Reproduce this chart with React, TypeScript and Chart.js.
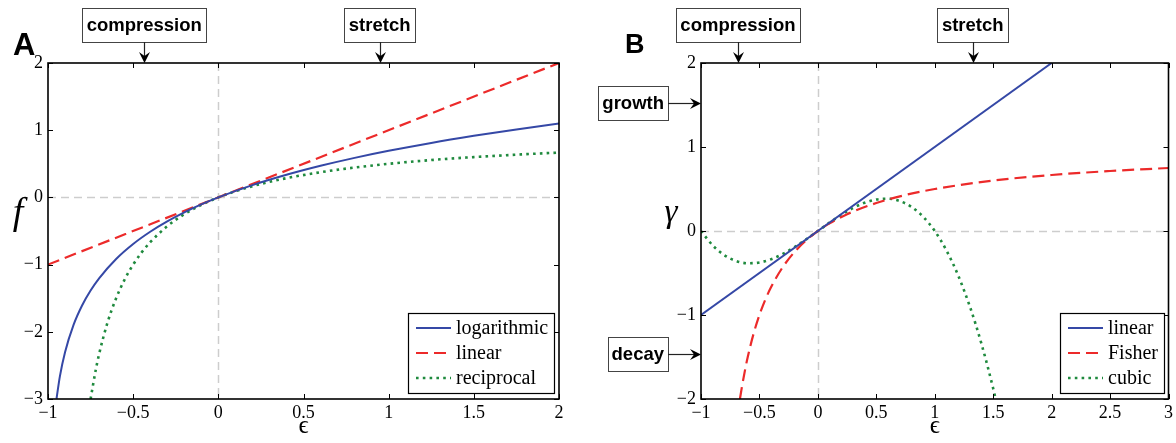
import React, { useEffect, useRef } from 'react';
import { Chart, registerables } from 'chart.js';
Chart.register(...registerables);

// ---------- Panel A data ----------
const xTicksA = [-1, -0.5, 0, 0.5, 1, 1.5, 2];
const yTicksA = [-3, -2, -1, 0, 1, 2];
const logEps = [-0.95, -0.93, -0.9, -0.85, -0.8, -0.75, -0.7, -0.6, -0.5, -0.4, -0.3, -0.2, -0.1, 0, 0.2, 0.4, 0.6, 0.8, 1.0, 1.25, 1.5, 1.75, 2.0];
const logF = [-2.996, -2.659, -2.303, -1.897, -1.609, -1.386, -1.204, -0.916, -0.693, -0.511, -0.357, -0.223, -0.105, 0, 0.182, 0.336, 0.47, 0.588, 0.693, 0.811, 0.916, 1.012, 1.099];
const linEpsA = [-1, 2];
const linFA = [-1, 2];
const recEps = [-0.75, -0.72, -0.7, -0.65, -0.6, -0.55, -0.5, -0.45, -0.4, -0.3, -0.2, -0.1, 0, 0.1, 0.2, 0.3, 0.4, 0.6, 0.8, 1.0, 1.25, 1.5, 1.75, 2.0];
const recF = [-3.0, -2.571, -2.333, -1.857, -1.5, -1.222, -1.0, -0.818, -0.667, -0.429, -0.25, -0.111, 0, 0.091, 0.167, 0.231, 0.286, 0.375, 0.444, 0.5, 0.556, 0.6, 0.636, 0.667];
const seriesNamesA = ['logarithmic', 'linear', 'reciprocal'];
const topNotesA = ['compression', 'stretch'];
const topNotesAX = [-0.435, 0.947];

// ---------- Panel B data ----------
const xTicksB = [-1, -0.5, 0, 0.5, 1, 1.5, 2, 2.5, 3];
const yTicksB = [-2, -1, 0, 1, 2];
const linEpsB = [-1, 2];
const linGB = [-1, 2];
const fisherEps = [-0.667, -0.65, -0.62, -0.6, -0.55, -0.5, -0.45, -0.4, -0.3, -0.2, -0.1, 0, 0.1, 0.25, 0.5, 0.75, 1.0, 1.5, 2.0, 2.5, 3.0];
const fisherG = [-2.0, -1.857, -1.632, -1.5, -1.222, -1.0, -0.818, -0.667, -0.429, -0.25, -0.111, 0, 0.091, 0.2, 0.333, 0.429, 0.5, 0.6, 0.667, 0.714, 0.75];
const cubicEps = [-1, -0.9, -0.8, -0.7, -0.6, -0.5, -0.4, -0.3, -0.2, -0.1, 0, 0.1, 0.2, 0.3, 0.4, 0.5, 0.6, 0.7, 0.8, 0.9, 1.0, 1.1, 1.2, 1.3, 1.35, 1.4, 1.45, 1.5, 1.52];
const cubicG = [0, -0.171, -0.288, -0.357, -0.384, -0.375, -0.336, -0.273, -0.192, -0.099, 0, 0.099, 0.192, 0.273, 0.336, 0.375, 0.384, 0.357, 0.288, 0.171, 0, -0.231, -0.528, -0.897, -1.11, -1.344, -1.599, -1.875, -1.992];
const seriesNamesB = ['linear', 'Fisher', 'cubic'];
const topNotesB = ['compression', 'stretch'];
const topNotesBX = [-0.684, 1.325];
const sideNotesB = ['growth', 'decay'];
const sideNotesBY = [1.52, -1.46];

// ---------- styles ----------
const BLUE = '#3548a6';
const RED = '#ec2a2a';
const GREEN = '#1f8a3e';
const SERIF = '"Liberation Serif", "DejaVu Serif", serif';
const SANS = '"Liberation Sans", Arial, sans-serif';
const H = 443;

const styleSolid = { color: BLUE, width: 2, dash: [] as number[] };
const styleDash = { color: RED, width: 2.2, dash: [12, 6] };
const styleDot = { color: GREEN, width: 2.6, dash: [2.6, 4.2] };

function fmt(v: number) {
  return v < 0 ? '\u2212' + String(Math.abs(v)) : String(v);
}

function line(ctx: CanvasRenderingContext2D, x1: number, y1: number, x2: number, y2: number) {
  ctx.beginPath();
  ctx.moveTo(x1, y1);
  ctx.lineTo(x2, y2);
  ctx.stroke();
}

function arrow(ctx: CanvasRenderingContext2D, x1: number, y1: number, x2: number, y2: number) {
  ctx.strokeStyle = '#222';
  ctx.lineWidth = 1.2;
  const ang = Math.atan2(y2 - y1, x2 - x1);
  const L = 11, W = 5.5, N = 4;
  const bx = x2 - Math.cos(ang) * (L - N), by = y2 - Math.sin(ang) * (L - N);
  line(ctx, x1, y1, bx, by);
  const c = Math.cos(ang), s = Math.sin(ang);
  const px = (dx: number, dy: number) => [x2 + dx * c - dy * s, y2 + dx * s + dy * c];
  const tip = px(0, 0), l = px(-L, -W), n = px(-L + N, 0), r = px(-L, W);
  ctx.fillStyle = '#000';
  ctx.beginPath();
  ctx.moveTo(tip[0], tip[1]);
  ctx.lineTo(l[0], l[1]);
  ctx.lineTo(n[0], n[1]);
  ctx.lineTo(r[0], r[1]);
  ctx.closePath();
  ctx.fill();
}

function noteBox(ctx: CanvasRenderingContext2D, x: number, y: number, w: number, h: number, text: string) {
  ctx.fillStyle = '#fff';
  ctx.fillRect(x, y, w, h);
  ctx.strokeStyle = '#444';
  ctx.lineWidth = 1;
  ctx.strokeRect(Math.round(x) + 0.5, Math.round(y) + 0.5, Math.round(w), Math.round(h));
  ctx.fillStyle = '#000';
  ctx.textAlign = 'center';
  ctx.textBaseline = 'middle';
  ctx.fillText(text, x + w / 2, y + h / 2 + 1);
}

const framePlugin = {
  id: 'frame',
  beforeDatasetsDraw(chart: any) {
    const { ctx, chartArea: a } = chart;
    const xs = chart.scales.x, ys = chart.scales.y;
    ctx.save();
    ctx.strokeStyle = '#cdcdcd';
    ctx.lineWidth = 1.5;
    ctx.setLineDash([8, 5]);
    const x0 = Math.round(xs.getPixelForValue(0)) + 0.5;
    const y0 = Math.round(ys.getPixelForValue(0)) + 0.5;
    line(ctx, x0, a.top, x0, a.bottom);
    line(ctx, a.left, y0, a.right, y0);
    ctx.restore();
  },
  afterDraw(chart: any, _args: any, opts: any) {
    const { ctx, chartArea: a } = chart;
    const xs = chart.scales.x, ys = chart.scales.y;
    ctx.save();
    ctx.setLineDash([]);
    // inward ticks
    ctx.strokeStyle = '#000';
    ctx.lineWidth = 1;
    for (const t of xs.ticks) {
      const px = Math.round(xs.getPixelForValue(t.value)) + 0.5;
      line(ctx, px, a.bottom, px, a.bottom - 5);
      line(ctx, px, a.top, px, a.top + 5);
    }
    for (const t of ys.ticks) {
      const py = Math.round(ys.getPixelForValue(t.value)) + 0.5;
      line(ctx, a.left, py, a.left + 5, py);
      line(ctx, a.right, py, a.right - 5, py);
    }
    // frame
    ctx.lineWidth = 1.6;
    ctx.strokeRect(a.left, a.top, a.right - a.left, a.bottom - a.top);

    // legend
    ctx.font = '20px ' + SERIF;
    const items = chart.data.datasets;
    const tw = Math.max(...items.map((d: any) => ctx.measureText(d.label).width));
    const w = 8 + 35 + 5 + tw + 6;
    const h = 80;
    const lx = Math.round(a.right - 5 - w);
    const ly = Math.round(a.bottom - 6 - h);
    ctx.fillStyle = '#fff';
    ctx.fillRect(lx, ly, w, h);
    ctx.strokeStyle = '#000';
    ctx.lineWidth = 1.2;
    ctx.strokeRect(lx + 0.5, ly + 0.5, Math.round(w), h);
    items.forEach((d: any, i: number) => {
      const cy = ly + 15 + i * 25;
      ctx.save();
      ctx.setLineDash(d.borderDash || []);
      ctx.strokeStyle = d.borderColor;
      ctx.lineWidth = d.borderWidth;
      line(ctx, lx + 8, cy, lx + 43, cy);
      ctx.restore();
      ctx.fillStyle = '#000';
      ctx.textAlign = 'left';
      ctx.textBaseline = 'middle';
      ctx.fillText(d.label, lx + 48, cy + 1);
    });

    // annotations
    ctx.font = 'bold 18.5px ' + SANS;
    for (const n of opts.notesTop) {
      const px = xs.getPixelForValue(n.x);
      const bw = ctx.measureText(n.text).width + 9;
      const top = 8, bh = 34;
      noteBox(ctx, px - bw / 2, top, bw, bh, n.text);
      arrow(ctx, Math.round(px) + 0.5, top + bh, Math.round(px) + 0.5, a.top);
    }
    for (const n of opts.notesSide) {
      const py = ys.getPixelForValue(n.y);
      const bw = ctx.measureText(n.text).width + 8;
      const bh = 34;
      const right = a.left - 33;
      noteBox(ctx, right - bw, py - bh / 2, bw, bh, n.text);
      arrow(ctx, right, Math.round(py) + 0.5, a.left, Math.round(py) + 0.5);
    }

    // axis labels
    ctx.fillStyle = '#000';
    ctx.textAlign = 'center';
    ctx.textBaseline = 'alphabetic';
    ctx.font = '25px ' + SERIF;
    ctx.fillText(opts.xLabel, (a.left + a.right) / 2, 433);
    ctx.font = opts.yLabelFont;
    ctx.fillText(opts.yLabel, opts.yLabelX, opts.yLabelY);
    // panel letter
    ctx.font = opts.letterFont;
    ctx.textAlign = 'left';
    ctx.fillText(opts.letter, opts.letterX, opts.letterY);
    ctx.restore();
  },
};

type Series = { label: string; xs: number[]; ys: number[]; style: { color: string; width: number; dash: number[] } };

function makeConfig(p: any) {
  const tickFont = { family: SERIF, size: 18 };
  return {
    type: 'line',
    data: {
      datasets: p.series.map((s: Series) => ({
        label: s.label,
        data: s.xs.map((x, i) => ({ x, y: s.ys[i] })),
        borderColor: s.style.color,
        borderWidth: s.style.width,
        borderDash: s.style.dash,
        borderCapStyle: 'butt',
        pointRadius: 0,
        pointHoverRadius: 0,
        fill: false,
        cubicInterpolationMode: 'monotone',
        clip: 0,
      })),
    },
    options: {
      responsive: false,
      animation: false,
      events: [],
      layout: { padding: { top: p.area.top, right: p.canvasW - p.area.right, left: 0, bottom: 0 } },
      plugins: {
        legend: { display: false },
        tooltip: { enabled: false },
        frame: p.frame,
      },
      scales: {
        x: {
          type: 'linear',
          min: p.xTicks[0],
          max: p.xTicks[p.xTicks.length - 1],
          afterBuildTicks: (s: any) => { s.ticks = p.xTicks.map((v: number) => ({ value: v })); },
          afterFit: (s: any) => { s.height = H - p.area.bottom; },
          grid: { display: false, drawTicks: false },
          border: { display: false },
          ticks: { font: tickFont, color: '#000', padding: 3, maxRotation: 0, autoSkip: false, callback: (v: number) => fmt(v) },
        },
        y: {
          type: 'linear',
          min: p.yTicks[0],
          max: p.yTicks[p.yTicks.length - 1],
          afterBuildTicks: (s: any) => { s.ticks = p.yTicks.map((v: number) => ({ value: v })); },
          afterFit: (s: any) => { s.width = p.area.left; },
          grid: { display: false, drawTicks: false },
          border: { display: false },
          ticks: { font: tickFont, color: '#000', padding: 5, autoSkip: false, callback: (v: number) => fmt(v) },
        },
      },
    },
    plugins: [framePlugin],
  };
}

const panelA = {
  canvasW: 590,
  left: 0,
  area: { left: 48, top: 63, right: 559, bottom: 399 },
  xTicks: xTicksA,
  yTicks: yTicksA,
  series: [
    { label: seriesNamesA[0], xs: logEps, ys: logF, style: styleSolid },
    { label: seriesNamesA[1], xs: linEpsA, ys: linFA, style: styleDash },
    { label: seriesNamesA[2], xs: recEps, ys: recF, style: styleDot },
  ],
  frame: {
    notesTop: topNotesA.map((t, i) => ({ text: t, x: topNotesAX[i] })),
    notesSide: [],
    xLabel: '\u03F5',
    yLabel: 'f',
    yLabelFont: 'italic 38px ' + SERIF,
    yLabelX: 18,
    yLabelY: 224,
    letter: 'A',
    letterFont: 'bold 31px ' + SANS,
    letterX: 13,
    letterY: 55,
  },
};

const panelB = {
  canvasW: 586,
  left: 590,
  area: { left: 111, top: 63, right: 579, bottom: 399 },
  xTicks: xTicksB,
  yTicks: yTicksB,
  series: [
    { label: seriesNamesB[0], xs: linEpsB, ys: linGB, style: styleSolid },
    { label: seriesNamesB[1], xs: fisherEps, ys: fisherG, style: styleDash },
    { label: seriesNamesB[2], xs: cubicEps, ys: cubicG, style: styleDot },
  ],
  frame: {
    notesTop: topNotesB.map((t, i) => ({ text: t, x: topNotesBX[i] })),
    notesSide: sideNotesB.map((t, i) => ({ text: t, y: sideNotesBY[i] })),
    xLabel: '\u03F5',
    yLabel: '\u03B3',
    yLabelFont: 'italic 33px ' + SERIF,
    yLabelX: 81,
    yLabelY: 222,
    letter: 'B',
    letterFont: 'bold 27px ' + SANS,
    letterX: 35,
    letterY: 53,
  },
};

function Panel({ p }: { p: any }) {
  const ref = useRef<HTMLCanvasElement | null>(null);
  useEffect(() => {
    if (!ref.current) return;
    const chart = new Chart(ref.current, makeConfig(p) as any);
    return () => chart.destroy();
  }, [p]);
  return (
    <canvas
      ref={ref}
      width={p.canvasW}
      height={H}
      style={{ position: 'absolute', left: p.left, top: 0, width: p.canvasW, height: H, display: 'block' }}
    />
  );
}

export default function App() {
  return (
    <div style={{ position: 'fixed', left: 0, top: 0, width: 1176, height: H, background: '#fff', overflow: 'hidden' }}>
      <Panel p={panelA} />
      <Panel p={panelB} />
    </div>
  );
}
